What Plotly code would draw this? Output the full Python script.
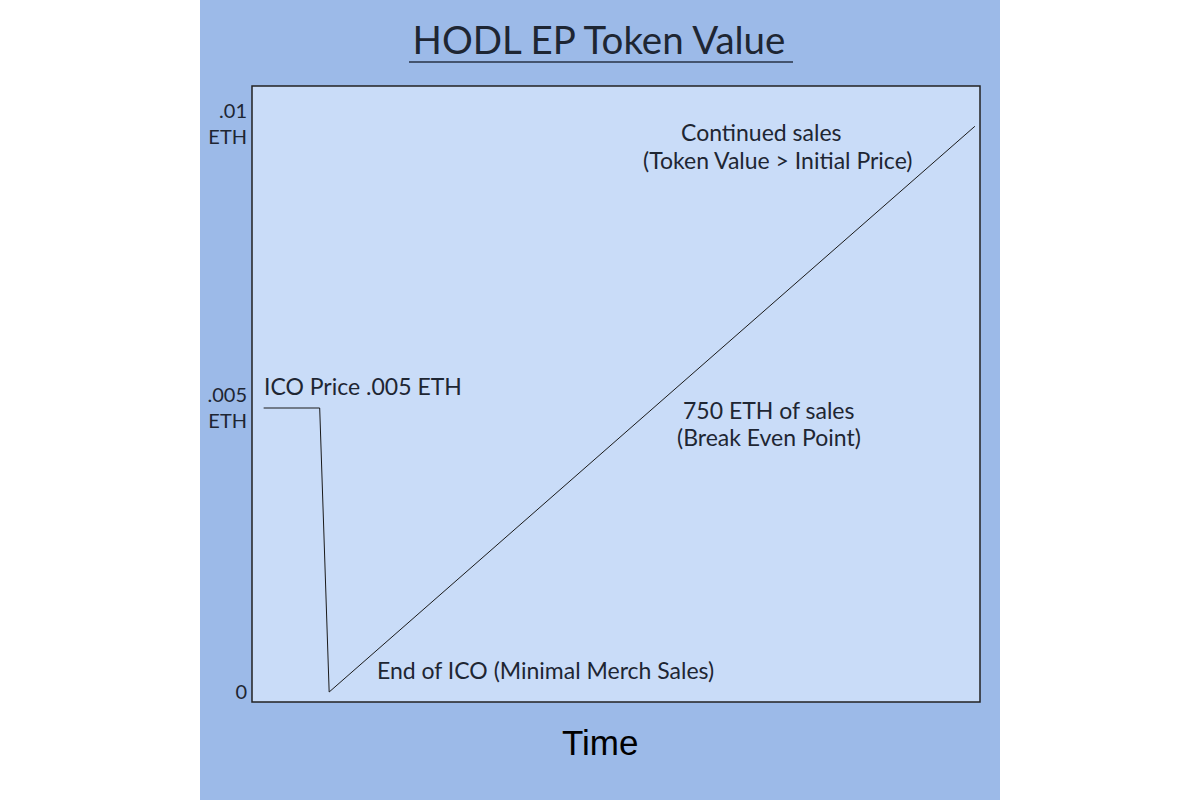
import plotly.graph_objects as go

# ---- data ----
time_points = [1.6, 9.3, 10.6, 99.3]
token_value = [0.005, 0.005, 0.0, 0.00996]

y_tickvals = [0, 0.005, 0.01]
y_ticktext = ["0", ".005<br>ETH", ".01<br>ETH"]

note_texts = [
    "ICO Price .005 ETH",
    "End of ICO (Minimal Merch Sales)",
    "750 ETH of sales",
    "(Break Even Point)",
    "Continued sales",
    "(Token Value > Initial Price)",
]
note_x = [1.37, 16.9, 70.9, 71.0, 70.0, 72.25]
note_y = [0.00539, 0.00039, 0.00497, 0.00449, 0.00986, 0.00937]
note_anchor = ["left", "left", "center", "center", "center", "center"]

title_text = "HODL EP Token Value"
x_title = "Time"

# ---- style ----
PANEL = "#9cbae8"
PLOT_BG = "#c9dcf8"
TEXT = "#1e2633"
FONT = "Lato"

fig = go.Figure()
fig.add_trace(go.Scatter(
    x=time_points, y=token_value, mode="lines",
    line=dict(color="#1a1a1a", width=1), hoverinfo="skip", showlegend=False,
))

L, R, T, B = 252, 220, 86, 98
W, H = 1200, 800
pw, ph = W - L - R, H - T - B

def px_x(p):
    return (p - L) / pw

def px_y(p):
    return (H - B - p) / ph

shapes = [
    dict(type="rect", xref="paper", yref="paper",
         x0=px_x(200), x1=px_x(1000), y0=px_y(H), y1=px_y(0),
         fillcolor=PANEL, line=dict(width=0), layer="below"),
    dict(type="rect", xref="paper", yref="paper", x0=0, x1=1, y0=0, y1=1,
         fillcolor=PLOT_BG, line=dict(color="#222222", width=1.5), layer="below"),
    # title underline
    dict(type="line", xref="paper", yref="paper",
         x0=px_x(409), x1=px_x(793), y0=px_y(62), y1=px_y(62),
         line=dict(color="#44546e", width=2)),
]

annotations = []
for t, x, y, a in zip(note_texts, note_x, note_y, note_anchor):
    annotations.append(dict(
        text=t, x=x, y=y, xref="x", yref="y", xanchor=a, yanchor="middle",
        showarrow=False, align="center",
        font=dict(family=FONT, size=23, color=TEXT),
    ))
annotations.append(dict(
    text=x_title, x=px_x(600), y=px_y(742), xref="paper", yref="paper",
    xanchor="center", yanchor="middle", showarrow=False,
    font=dict(family="Liberation Sans, Arial", size=35, color="black"),
))

fig.update_layout(
    width=W, height=H,
    margin=dict(l=L, r=R, t=T, b=B, autoexpand=False),
    paper_bgcolor="white",
    plot_bgcolor="rgba(0,0,0,0)",
    shapes=shapes,
    annotations=annotations,
    title=dict(
        text=title_text,
        x=599 / W, xref="container", xanchor="center",
        y=1 - 41 / H, yref="container", yanchor="middle",
        font=dict(family=FONT, size=38.5, color=TEXT),
    ),
    xaxis=dict(
        range=[0, 100], showgrid=False, zeroline=False, showticklabels=False,
        ticks="", showline=False, fixedrange=True,
    ),
    yaxis=dict(
        range=[-0.000176, 0.010669], showgrid=False, zeroline=False,
        tickvals=y_tickvals, ticktext=y_ticktext, ticks="", showline=False,
        ticklabelstandoff=4,
        tickfont=dict(family=FONT, size=20, color=TEXT), fixedrange=True,
    ),
)

fig.write_html("out.html")
